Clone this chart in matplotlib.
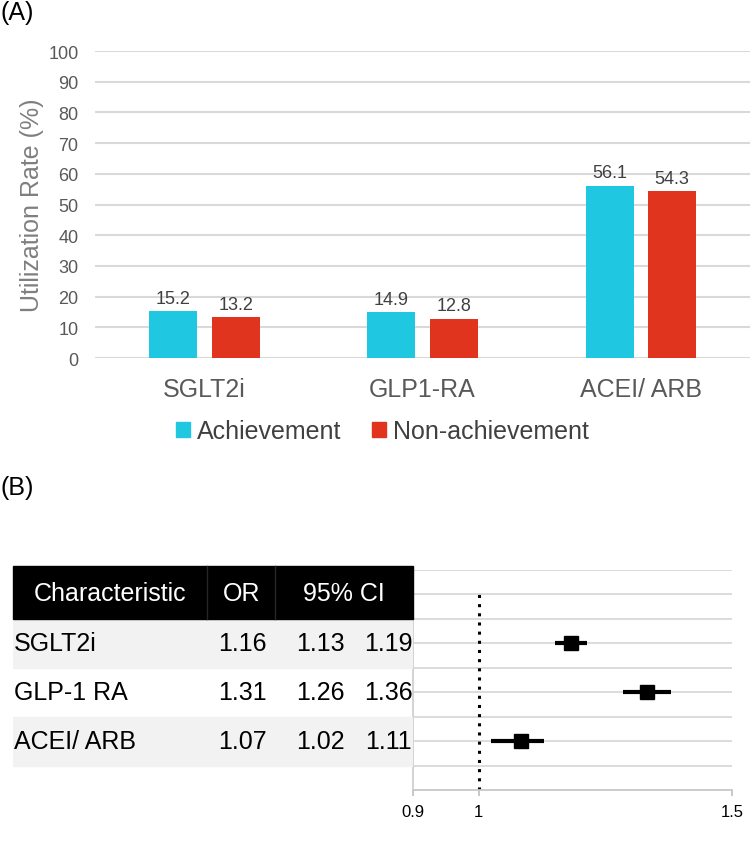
import numpy as np
import matplotlib.pyplot as plt
from matplotlib.patches import Rectangle

plt.rcParams['font.family'] = ['Liberation Sans', 'DejaVu Sans']

# (A) utilization rates
categories = ['SGLT2i', 'GLP1-RA', 'ACEI/ ARB']
achievement = [15.2, 14.9, 56.1]
non_achievement = [13.2, 12.8, 54.3]
yticks = [0, 10, 20, 30, 40, 50, 60, 70, 80, 90, 100]

# (B) odds ratios
drugs = ['SGLT2i', 'GLP-1 RA', 'ACEI/ ARB']
odds = [1.16, 1.31, 1.07]
ci_low = [1.13, 1.26, 1.02]
ci_high = [1.19, 1.36, 1.11]
headers = ['Characteristic', 'OR', '95% CI']
or_ticks = [0.9, 1, 1.5]

cyan = '#1fc8e0'
red = '#e0341f'
grid_c = '#d9d9d9'

fig = plt.figure(figsize=(7.5, 8.54), dpi=100)

# ---- panel A ----
ax = fig.add_axes([0.127, 0.5796, 0.873, 0.3595])
x = np.arange(len(categories))
w = 0.22
off = 0.143
b1 = ax.bar(x - off, achievement, w, color=cyan, zorder=3)
b2 = ax.bar(x + off, non_achievement, w, color=red, zorder=3)
for bars, vals in ((b1, achievement), (b2, non_achievement)):
    for b, v in zip(bars, vals):
        ax.text(b.get_x() + b.get_width() / 2, v + 1.5, f'{v:.1f}', ha='center', va='bottom',
                fontsize=13, color='#404040')
ax.set_xlim(-0.5, 2.5)
ax.set_ylim(0, 100)
ax.set_yticks(yticks)
ax.tick_params(axis='y', labelsize=13, labelcolor='#595959', length=0, pad=12)
ax.set_xticks(x)
ax.set_xticklabels(categories)
ax.tick_params(axis='x', labelsize=18, labelcolor='#595959', length=0, pad=14)
ax.grid(axis='y', color=grid_c, linewidth=1.5, zorder=0)
for s in ax.spines.values():
    s.set_visible(False)
ax.set_ylabel('Utilization Rate (%)', fontsize=18, color='#7f7f7f')
ax.yaxis.set_label_coords(-0.078, 0.5)

handles = [Rectangle((0, 0), 1, 1, color=cyan), Rectangle((0, 0), 1, 1, color=red)]
fig.legend(handles, ['Achievement', 'Non-achievement'], loc='center', bbox_to_anchor=(0.51, 0.494),
           ncol=2, frameon=False, fontsize=18, handlelength=0.55, handleheight=0.55,
           handletextpad=0.3, columnspacing=1.2, labelcolor='#404040')

fig.text(0.0, 0.985, '(A)', fontsize=18, ha='left', va='center')
fig.text(0.0, 0.4286, '(B)', fontsize=18, ha='left', va='center')

# ---- panel B: forest ----
rows_y = [6, 4, 2]
fa = fig.add_axes([0.5507, 0.0738, 0.4253, 0.2576])
fa.set_xscale('log')
fa.set_xlim(0.9, 1.5)
fa.set_ylim(0, 9)
for yy in range(1, 10):
    fa.axhline(yy, color=grid_c, linewidth=1.3, zorder=0)
fa.plot([1, 1], [0, 8], color='black', linestyle=(0, (1, 2)), linewidth=2.2, zorder=2)
for yy, o, lo, hi in zip(rows_y, odds, ci_low, ci_high):
    fa.plot([lo, hi], [yy, yy], color='black', linewidth=3, zorder=3, solid_capstyle='butt')
    fa.plot(o, yy, marker='s', color='black', markersize=10, zorder=4)
fa.set_xticks(or_ticks)
fa.set_xticklabels([str(t) for t in or_ticks])
fa.xaxis.set_minor_locator(plt.NullLocator())
fa.tick_params(axis='x', labelsize=12, color='#bfbfbf', length=4, width=1.2, pad=6)
fa.set_yticks([])
for k in ('top', 'right'):
    fa.spines[k].set_visible(False)
fa.spines['bottom'].set_color('#c8c8c8')
fa.spines['bottom'].set_linewidth(1.3)
fa.spines['left'].set_color('#d0d0d0')
fa.spines['left'].set_linewidth(1.3)

# ---- panel B: table ----
ta = fig.add_axes([0.0173, 0.0738, 0.5333, 0.2576])
ta.set_xlim(0, 400)
ta.set_ylim(0, 9)
ta.axis('off')
ta.add_patch(Rectangle((0, 7), 400, 2.16, color='black', clip_on=False))
for sx in (194, 262):
    ta.plot([sx, sx], [7, 9.16], color='#262626', linewidth=1, clip_on=False)
hx = [97, 229, 331]
for hxx, h in zip(hx, headers):
    ta.text(hxx, 8.05, h, color='white', fontsize=18, ha='center', va='center')
for i, (yy, d, o, lo, hi) in enumerate(zip(rows_y, drugs, odds, ci_low, ci_high)):
    if i % 2 == 0:
        ta.add_patch(Rectangle((0, yy - 1), 400, 2, color='#f2f2f2', zorder=0))
    ta.text(1, yy, d, fontsize=18, ha='left', va='center')
    ta.text(229, yy, f'{o:.2f}', fontsize=18, ha='center', va='center')
    ta.text(307, yy, f'{lo:.2f}', fontsize=18, ha='center', va='center')
    ta.text(375, yy, f'{hi:.2f}', fontsize=18, ha='center', va='center')

fig.savefig('out.png', dpi=100)
